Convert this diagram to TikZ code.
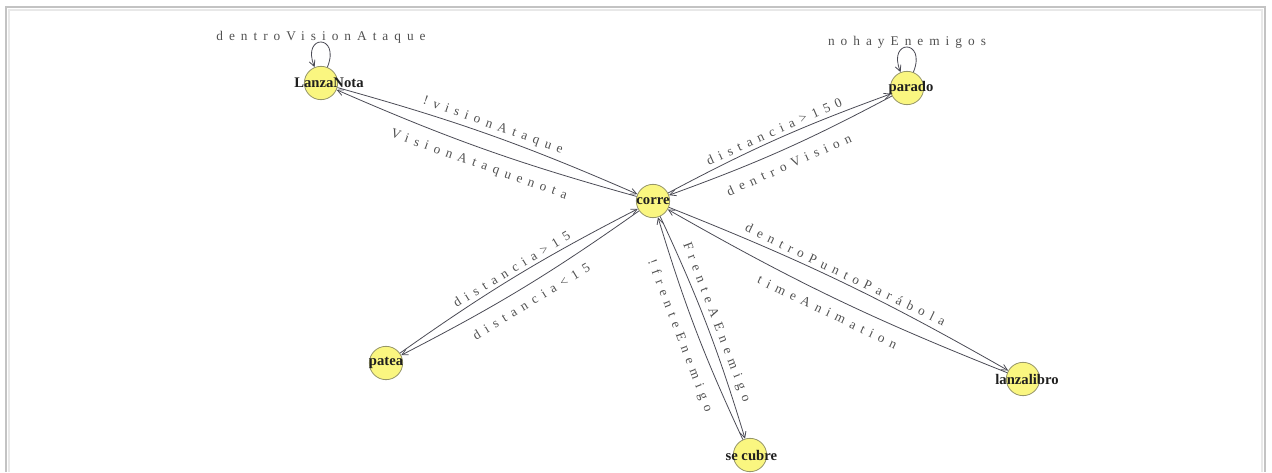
\documentclass[tikz,border=0pt]{standalone}
\usepackage{fontspec}
\setmainfont{Liberation Serif}
\newfontfamily\spacedserif[LetterSpace=45]{Liberation Serif}
\usetikzlibrary{arrows.meta}

\definecolor{statefill}{RGB}{250,246,128}
\definecolor{stateline}{RGB}{150,150,105}
\definecolor{wire}{RGB}{75,75,85}
\definecolor{labelgray}{RGB}{80,80,80}
\definecolor{framegray}{RGB}{195,195,195}
\definecolor{framelight}{RGB}{232,232,232}

\begin{document}
\begin{tikzpicture}[x=0.75pt,y=-0.75pt,
  state/.style={circle,draw=stateline,fill=statefill,line width=0.6pt,
                minimum size=25pt,inner sep=0pt},
  statename/.style={font=\fontsize{11}{11}\selectfont\bfseries,text=black!88,inner sep=0pt},
  wirestyle/.style={draw=wire,line width=0.6pt,
                    -{Straight Barb[length=4.5pt,width=4.5pt]}},
  trlabel/.style={font=\spacedserif\fontsize{10}{10}\selectfont,text=labelgray,
                  sloped,inner sep=1pt},
  uplabel/.style={trlabel,above=1.5pt},
  downlabel/.style={trlabel,below=7pt},
  looplabel/.style={font=\spacedserif\fontsize{10}{10}\selectfont,text=labelgray,
                    above=-1.5pt,inner sep=0pt}
]
\useasboundingbox (0,0) rectangle (1272,472);

% window frame
\draw[framelight,line width=0.8pt] (9,472) -- (9,10) -- (1262,10) -- (1262,472);
\draw[framegray,line width=1pt] (6,472) -- (6,7) -- (1265,7) -- (1265,472);

% states
\node[state] (L) at (321,83) {};
\node[state] (P) at (907,88) {};
\node[state] (C) at (653,201) {};
\node[state] (Pa) at (386,363) {};
\node[state] (B) at (1023,379) {};
\node[state] (S) at (750,455) {};

\node[statename] (Lname) at ([xshift=6pt]L) {LanzaNota};
\node[statename] (Pname) at ([xshift=3pt]P) {parado};
\node[statename] (Cname) at (C) {corre};
\node[statename] (Paname) at (Pa) {patea};
\node[statename] (Bname) at ([xshift=3pt]B) {lanzalibro};
\node[statename] (Sname) at ([xshift=1pt]S) {se cubre};

% self loops
\draw[wirestyle] (L) to[out=68,in=112,distance=27pt]
  node[looplabel] (lLL) {dentroVisionAtaque} (L);
\draw[wirestyle] (P) to[out=68,in=112,distance=27pt]
  node[looplabel] (lPP) {nohayEnemigos} (P);

% corre <-> LanzaNota
\draw[wirestyle] (L) to[bend left=4] node[uplabel] (lLC) {!visionAtaque} (C);
\draw[wirestyle] (C) to[bend left=4] node[downlabel] (lCL) {VisionAtaquenota} (L);

% corre <-> parado
\draw[wirestyle] (C) to[bend left=4] node[uplabel] (lCP) {distancia>150} (P);
\draw[wirestyle] (P) to[bend left=4] node[downlabel] (lPC) {dentroVision} (C);

% corre <-> patea
\draw[wirestyle] (Pa) to[bend left=4] node[uplabel] (lPaC) {distancia>15} (C);
\draw[wirestyle] (C) to[bend left=4] node[downlabel] (lCPa) {distancia<15} (Pa);

% corre <-> se cubre
\draw[wirestyle] (C) to[bend left=4] node[uplabel] (lCS) {FrenteAEnemigo} (S);
\draw[wirestyle] (S) to[bend left=4] node[downlabel] (lSC) {!frenteEnemigo} (C);

% corre <-> lanzalibro
\draw[wirestyle] (C) to[bend left=4] node[uplabel] (lCB) {dentroPuntoParábola} (B);
\draw[wirestyle] (B) to[bend left=4] node[downlabel] (lBC) {timeAnimation} (C);
\end{tikzpicture}
\end{document}
